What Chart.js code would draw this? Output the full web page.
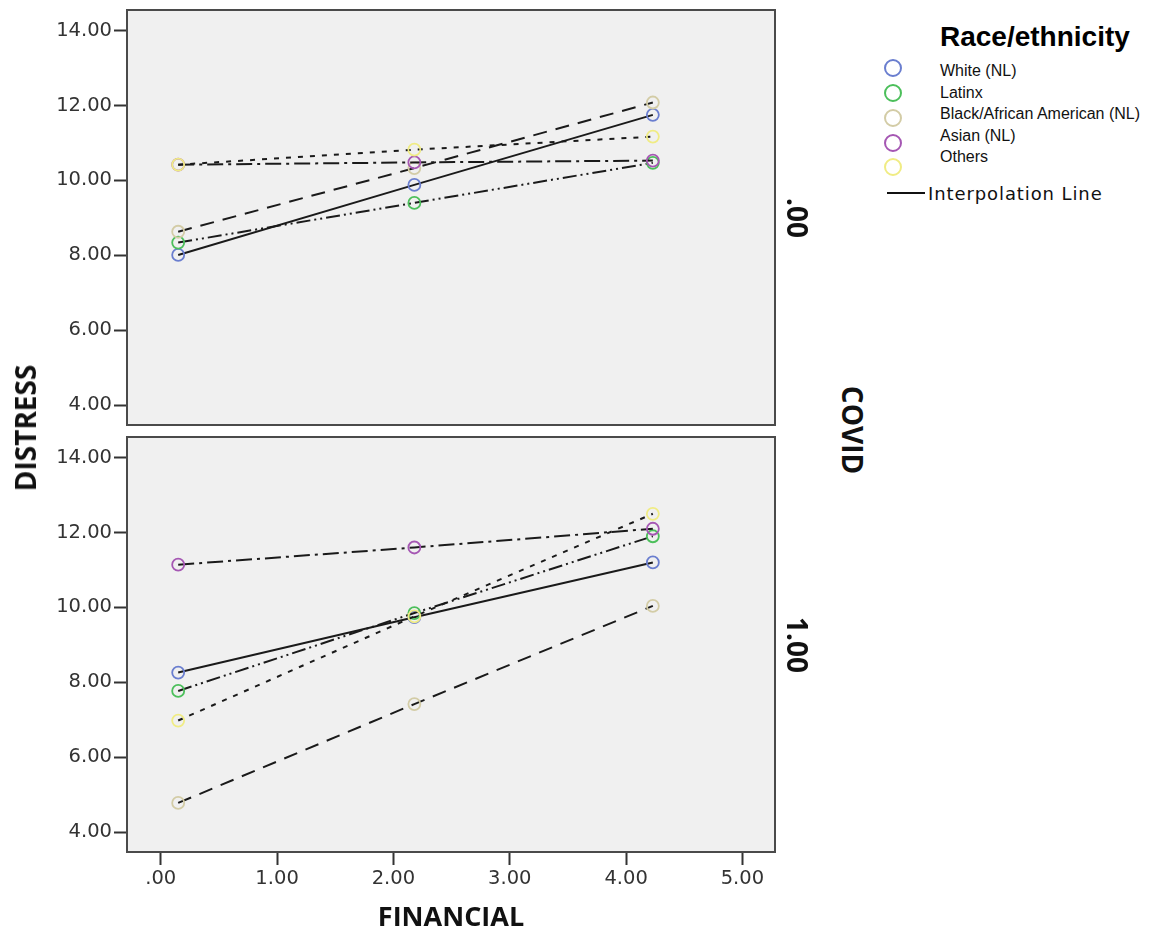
<!DOCTYPE html>
<html>
<head>
<meta charset="utf-8">
<script src="https://cdn.jsdelivr.net/npm/chart.js@4.4.1/dist/chart.umd.min.js"></script>
<style>
  body { margin: 0; background: #fff; }
  #page { position: relative; width: 1166px; height: 935px; overflow: hidden; }
  .box { position: absolute; }
  .rot { position: absolute; white-space: nowrap; line-height: 1; color: #111;
         font-family: "Open Sans", sans-serif; font-weight: 700; }
  .legend-title { position: absolute; left: 940px; top: 23px; font: bold 28px/28px "Liberation Sans", Arial, sans-serif; color: #000; }
  .legend-item { position: absolute; left: 940px; font: 16px/21.5px "Liberation Sans", Arial, sans-serif; color: #111; white-space: nowrap; }
  .legend-dot { position: absolute; width: 18px; height: 18px; border-radius: 50%; border: 2px solid; box-sizing: border-box; }
  .interp-line { position: absolute; left: 887px; top: 192px; width: 38px; height: 2px; background: #111; }
  .interp-text { position: absolute; left: 928px; top: 184px; font: 18px/20px "DejaVu Sans", sans-serif; letter-spacing: 0.9px; color: #111; white-space: nowrap; }
</style>
</head>
<body>
<div id="page">
  <div class="box" style="left:0; top:-5px; width:800px; height:444px;"><canvas id="chartTop"></canvas></div>
  <div class="box" style="left:0; top:417px; width:800px; height:518px;"><canvas id="chartBottom"></canvas></div>

  <div class="rot" style="left:25px; top:428px; font-size:28px; transform: translate(-50%,-50%) rotate(-90deg);">DISTRESS</div>
  <div class="rot" style="left:853px; top:430px; font-size:28px; transform: translate(-50%,-50%) rotate(90deg);">COVID</div>
  <div class="rot" style="left:798px; top:218px; font-size:28px; transform: translate(-50%,-50%) rotate(90deg);">.00</div>
  <div class="rot" style="left:798px; top:645px; font-size:28px; transform: translate(-50%,-50%) rotate(90deg);">1.00</div>

  <div id="legend"></div>
</div>

<script>
// Moyennes de DISTRESS par niveau FINANCIAL, une courbe par groupe

const groups = ["White (NL)", "Latinx", "Black/African American (NL)", "Asian (NL)", "Others"];
const financialLevels = [0.15, 2.18, 4.23];

// COVID = .00
const white0 = [8.01, 9.88, 11.75];
const latinx0 = [8.34, 9.40, 10.47];
const black0 = [8.63, 10.33, 12.08];
const asian0 = [10.42, 10.48, 10.53];
const others0 = [10.42, 10.82, 11.17];

// COVID = 1.00
const white1 = [8.26, 9.74, 11.20];
const latinx1 = [7.77, 9.85, 11.90];
const black1 = [4.78, 7.42, 10.04];
const asian1 = [11.14, 11.60, 12.10];
const others1 = [6.98, 9.76, 12.50];

const yTicks = [4, 6, 8, 10, 12, 14];
const xTicks = [0, 1, 2, 3, 4, 5];

// styles
const groupColors = ["#6a7ecf", "#4cbf5b", "#d3cca6", "#a557b3", "#f0ec84"];
const lineDashes = [[], [14, 4, 2, 4, 2, 4], [14, 9], [16, 5, 3, 5], [5, 7]];

function fmt(v) {
  return v === 0 ? ".00" : v.toFixed(2);
}

function buildDatasets(series) {
  return groups.map((name, i) => ({
    label: name,
    data: financialLevels.map((x, j) => ({ x: x, y: series[i][j] })),
    borderColor: "#1a1a1a",
    borderWidth: 2,
    borderDash: lineDashes[i],
    pointStyle: "circle",
    pointRadius: 6,
    pointBorderWidth: 1.8,
    pointBorderColor: groupColors[i],
    pointBackgroundColor: "rgba(0,0,0,0)",
    fill: false,
    tension: 0,
    order: groups.length - i
  }));
}

// fond gris + cadre du panneau
const panelBox = {
  id: "panelBox",
  beforeDraw(chart) {
    const a = chart.chartArea;
    const ctx = chart.ctx;
    ctx.save();
    ctx.fillStyle = "#f0f0f0";
    ctx.fillRect(a.left, a.top, a.right - a.left, a.bottom - a.top);
    ctx.restore();
  },
  afterDraw(chart) {
    const a = chart.chartArea;
    const ctx = chart.ctx;
    ctx.save();
    ctx.strokeStyle = "#4a4a4a";
    ctx.lineWidth = 2;
    ctx.strokeRect(a.left, a.top, a.right - a.left, a.bottom - a.top);
    ctx.restore();
  }
};

function yScale() {
  return {
    type: "linear",
    min: 3.47,
    max: 14.55,
    afterBuildTicks(scale) { scale.ticks = yTicks.map(v => ({ value: v })); },
    afterFit(scale) { scale.width = 127; },
    grid: { drawOnChartArea: false, drawTicks: true, tickLength: 13, tickWidth: 2, tickColor: "#333" },
    border: { display: false },
    ticks: {
      padding: 2,
      color: "#333",
      font: { family: "DejaVu Sans", size: 19.5 },
      callback: fmt
    }
  };
}

function makePanel(canvasId, series, showX) {
  const ctx = document.getElementById(canvasId).getContext("2d");
  const xScale = {
    type: "linear",
    min: -0.29,
    max: 5.28,
    display: showX,
    afterBuildTicks(scale) { scale.ticks = xTicks.map(v => ({ value: v })); },
    grid: { drawOnChartArea: false, drawTicks: true, tickLength: 13, tickWidth: 2, tickColor: "#333" },
    border: { display: false },
    ticks: {
      padding: 2,
      color: "#333",
      maxRotation: 0,
      font: { family: "DejaVu Sans", size: 19.5 },
      callback: fmt
    },
    title: {
      display: true,
      text: "FINANCIAL",
      color: "#111",
      font: { family: "Open Sans", size: 27, weight: "bold" },
      padding: { top: 0, bottom: 0 }
    }
  };
  if (showX) xScale.afterFit = scale => { scale.height = 83; };

  return new Chart(ctx, {
    type: "line",
    data: { datasets: buildDatasets(series) },
    options: {
      responsive: true,
      maintainAspectRatio: false,
      animation: false,
      layout: showX ? { padding: { left: 0, right: 25, top: 20, bottom: 0 } }
                    : { padding: { left: 0, right: 25, top: 15, bottom: 14 } },
      plugins: { legend: { display: false }, tooltip: { enabled: false } },
      scales: { x: xScale, y: yScale() }
    },
    plugins: [panelBox]
  });
}

function buildLegend() {
  const el = document.getElementById("legend");
  let html = '<div class="legend-title">Race/ethnicity</div>';
  const dotY = [68, 93, 118, 143, 167];
  groups.forEach((name, i) => {
    html += '<div class="legend-dot" style="left:884px; top:' + (dotY[i] - 9) + 'px; border-color:' + groupColors[i] + ';"></div>';
    html += '<div class="legend-item" style="top:' + (60 + i * 21.5) + 'px;">' + name + '</div>';
  });
  html += '<div class="interp-line"></div><div class="interp-text">Interpolation Line</div>';
  el.innerHTML = html;
}

buildLegend();
makePanel("chartTop", [white0, latinx0, black0, asian0, others0], false);
makePanel("chartBottom", [white1, latinx1, black1, asian1, others1], true);
</script>
</body>
</html>
